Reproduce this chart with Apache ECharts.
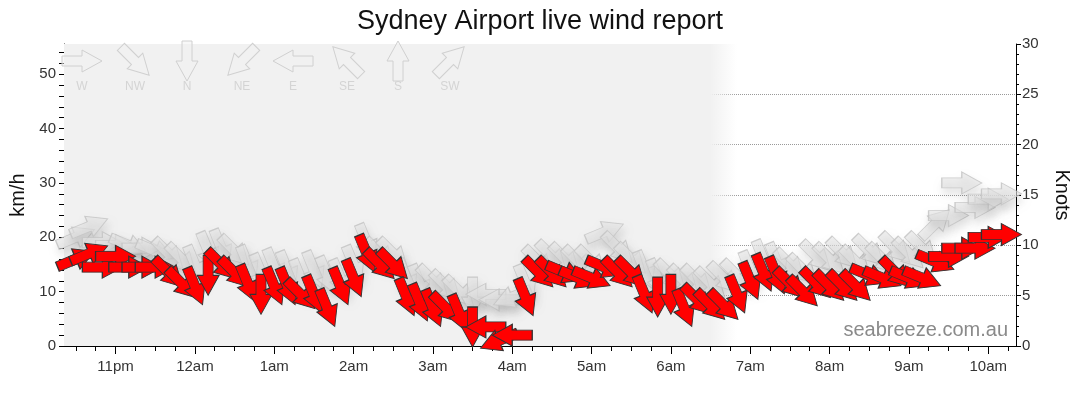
<!DOCTYPE html>
<html>
<head>
<meta charset="utf-8">
<script src="https://cdn.jsdelivr.net/npm/echarts@6/dist/echarts.min.js"></script>
<style>
html,body{margin:0;padding:0;background:#fff;}
#chart{width:1080px;height:414px;}
</style>
</head>
<body>
<div id="chart"></div>
<script>
// ---- data ----
const times = ['22:30','22:40','22:50','23:00','23:10','23:20','23:30','23:40','23:50',
  '00:00','00:10','00:20','00:30','00:40','00:50',
  '01:00','01:10','01:20','01:30','01:40','01:50',
  '02:00','02:10','02:20','02:30','02:40','02:50',
  '03:00','03:10','03:20','03:30','03:40','03:50',
  '04:00','04:10','04:20','04:30','04:40','04:50',
  '05:00','05:10','05:20','05:30','05:40','05:50',
  '06:00','06:10','06:20','06:30','06:40','06:50',
  '07:00','07:10','07:20','07:30','07:40','07:50',
  '08:00','08:10','08:20','08:30','08:40','08:50',
  '09:00','09:10','09:20','09:30','09:40','09:50',
  '10:00','10:10'];
const windKmh = [16,17,14.5,16.5,14.5,14.5,14.5,13.5,11.5,
  11,13,15,13.5,11.5,9.5,
  11,11,9.5,9.5,7,11,
  12.5,17,15,15,9,8,
  7,7,6,3.5,3.5,1,
  2,9,13.5,13.5,13.5,12.5,
  12.5,14.5,13.5,13.5,9.5,9,
  9.5,7,8.5,7.5,7.5,9.5,
  12,13.5,13,11.5,10,11.5,
  11,11,11,13,12.5,13.5,
  12.5,12.5,15.5,16.5,18,18,
  20,20.5];
const windDir = ['WSW','WSW','W','W','W','W','W','NW','NW',
  'NNW','N','NW','NW','NNW','N',
  'NNW','NNW','NW','NNW','NNW','NNW',
  'NNW','NNW','NW','NW','NNW','NNW',
  'NNW','NW','NNW','N','E','ENE',
  'E','NNW','NW','NW','WNW','WNW',
  'WNW','WNW','NW','NW','NNW','N',
  'N','NNW','NW','NW','NW','NNW',
  'NNW','NNW','NNW','NW','NW','NW',
  'NW','NW','NW','WNW','WNW','NW',
  'WNW','WNW','WNW','W','W','W',
  'W','W'];
const gustKmh = [20,22,19,18.5,18.5,18,17.5,17,16,
  15,17.5,18,17.5,15,13.5,
  14.5,14,12.5,14,13,12.5,
  15,19,17,17,12.5,11.5,
  12,11,10,9,9.5,8.5,
  9,11.5,15.5,16.5,16,15.5,
  15.5,21,18,16,14,12.5,
  13,12,12,11.5,12.5,13,
  14,16,15.5,15,14,16.5,
  16,17,15.5,17.5,16,18,
  17,18,22.5,24,30,25.5,
  27,28];
const gustDir = ['WSW','WSW','W','W','WNW','W','WNW','NW','NW',
  'NNW','NNW','NNW','NW','NNW','NNW',
  'NNW','NNW','NNW','NNW','NNW','NNW',
  'NNW','NNW','NW','NW','NNW','NNW',
  'NW','NW','NW','N','E','E',
  'ENE','NNW','NW','NW','NW','NW',
  'NW','WSW','NW','NW','NNW','NNW',
  'NW','NW','NW','NW','NW','NW',
  'NNW','NNW','NNW','NW','NW','NW',
  'NW','NW','NW','NW','NW','NW',
  'NW','NW','SW','W','W','W',
  'W','W'];
const hourTicks = [60,120,180,240,300,360,420,480,540,600,660,720];
const hourLabels = ['11pm','12am','1am','2am','3am','4am','5am','6am','7am','8am','9am','10am'];
const kmhLabels = [0,10,20,30,40,50];
const compassNames = ['W','NW','N','NE','E','SE','S','SW'];
const nightEnd = '06:50';

// ---- helpers ----
const DIRS = {N:0,NNE:22.5,NE:45,ENE:67.5,E:90,ESE:112.5,SE:135,SSE:157.5,S:180,SSW:202.5,SW:225,WSW:247.5,W:270,WNW:292.5,NW:315,NNW:337.5};
function toMin(t){const p=t.split(':');let m=(+p[0])*60+(+p[1])-22*60;if(m<0)m+=1440;return m;}
const ARROW = 'path://M-5,20 L5,20 L5,0 L11,0 L0,-20 L-11,0 L-5,0 Z';
const ARROW_PTS = [[-5,20],[5,20],[5,0],[11,0],[0,-20],[-11,0],[-5,0]];
function rotFor(from){return -((DIRS[from]+180)%360);}

const redData = times.map((t,i)=>({value:[toMin(t),windKmh[i]],symbolRotate:rotFor(windDir[i])}));
const gustData = times.map((t,i)=>({value:[toMin(t),gustKmh[i]],symbolRotate:rotFor(gustDir[i])}));

const quarterTicks=[]; for(let v=30; v<=735; v+=15) quarterTicks.push(v);
const kmhTicks=[]; for(let v=0; v<=54; v+=2) kmhTicks.push(v);

const XMIN=21, XMAX=741;
const KMH_MAX = 30*1.852;
const FAR = 3000; // shadow-only trick: draw shape off-canvas, shadow back in place

// compass legend graphics
const legendX=[82,135,187,242,293,347,398,450];
const graphics=[];
compassNames.forEach((n,i)=>{
  graphics.push({type:'polygon',x:legendX[i],y:61,rotation:-((DIRS[n]+180)%360)*Math.PI/180,
    shape:{points:ARROW_PTS},style:{fill:'rgba(241,241,241,0.5)',stroke:'#d0d0d0',lineWidth:1},z:5,silent:true});
  graphics.push({type:'text',x:legendX[i],y:87,style:{text:n,fill:'#d4d4d4',font:'12px "Liberation Sans", Arial, sans-serif',textAlign:'center',textVerticalAlign:'middle'},z:5,silent:true});
});
graphics.push({type:'text',right:72,top:320,style:{text:'seabreeze.com.au',fill:'#8a8a8a',font:'20px "Liberation Sans", Arial, sans-serif'},z:100,silent:true});

const chart = echarts.init(document.getElementById('chart'),null,{renderer:'canvas',devicePixelRatio:1});
const axisFont = {color:'#333',fontSize:15,fontFamily:'"Liberation Sans", Arial, sans-serif'};
chart.setOption({
  animation:false,
  backgroundColor:'#fff',
  title:{text:'Sydney Airport live wind report',left:'center',top:3,
    textStyle:{fontSize:27,fontWeight:'normal',color:'#111',fontFamily:'"Liberation Sans", Arial, sans-serif'}},
  grid:{left:62,right:60,top:44,bottom:68},
  graphic:graphics,
  xAxis:[
    {type:'value',min:XMIN,max:XMAX,position:'bottom',
      axisLine:{show:true,lineStyle:{color:'#000',width:1}},
      axisTick:{show:true,customValues:hourTicks,length:8,lineStyle:{color:'#000'}},
      axisLabel:Object.assign({customValues:hourTicks,margin:13,formatter:function(v){const k=hourTicks.indexOf(v);return k>=0?hourLabels[k]:'';}},axisFont),
      splitLine:{show:false}},
    {type:'value',min:XMIN,max:XMAX,position:'bottom',
      axisLine:{show:false},
      axisTick:{show:true,customValues:quarterTicks,length:5,lineStyle:{color:'#000'}},
      axisLabel:{show:false},splitLine:{show:false}}
  ],
  yAxis:[
    {type:'value',min:0,max:KMH_MAX,position:'left',
      name:'km/h',nameLocation:'middle',nameGap:36,nameRotate:90,
      nameTextStyle:{fontSize:20,color:'#111',fontFamily:'"Liberation Sans", Arial, sans-serif'},
      axisLine:{show:true,lineStyle:{color:'#000'}},
      axisTick:{show:true,customValues:kmhTicks,length:5,lineStyle:{color:'#000'}},
      axisLabel:Object.assign({customValues:kmhLabels,margin:8},axisFont),
      splitLine:{show:false}},
    {type:'value',min:0,max:30,interval:5,position:'right',
      name:'Knots',nameLocation:'middle',nameGap:36,nameRotate:-90,
      nameTextStyle:{fontSize:20,color:'#111',fontFamily:'"Liberation Sans", Arial, sans-serif'},
      axisLine:{show:true,lineStyle:{color:'#000'}},
      axisTick:{show:true,length:5,lineStyle:{color:'#000'}},
      minorTick:{show:true,splitNumber:5,length:3,lineStyle:{color:'#000'}},
      axisLabel:Object.assign({margin:6},axisFont),
      splitLine:{show:true,showMinLine:false,showMaxLine:false,lineStyle:{type:'dotted',color:'#999',width:1}}}
  ],
  series:[
    {type:'line',data:[],z:0,silent:true,
      markArea:{silent:true,
        itemStyle:{color:{type:'linear',x:0,y:0,x2:1,y2:0,colorStops:[
          {offset:0,color:'#f1f1f1'},{offset:0.96,color:'#f1f1f1'},{offset:1,color:'rgba(241,241,241,0)'}]}},
        data:[[{xAxis:XMIN},{xAxis:toMin(nightEnd)}]]}},
    {type:'scatter',name:'Gust',data:gustData,symbol:ARROW,symbolSize:[22,40],z:2,
      itemStyle:{color:'rgba(228,228,228,0.75)',borderColor:'#c4c4c4',borderWidth:1,opacity:0.85,
        shadowBlur:8,shadowColor:'rgba(0,0,0,0.15)',shadowOffsetX:2,shadowOffsetY:6}},
    {type:'scatter',name:'WindShadow',data:redData,symbol:ARROW,symbolSize:[22,40],z:3,silent:true,
      symbolOffset:[0,-FAR],
      itemStyle:{color:'#000',borderWidth:0,opacity:1,
        shadowBlur:10,shadowColor:'rgba(0,0,0,0.25)',shadowOffsetX:2,shadowOffsetY:FAR+8}},
    {type:'scatter',name:'Wind',data:redData,symbol:ARROW,symbolSize:[22,40],z:4,
      itemStyle:{color:'#ff0000',borderColor:'#333',borderWidth:1,opacity:1}}
  ]
});
</script>
</body>
</html>
